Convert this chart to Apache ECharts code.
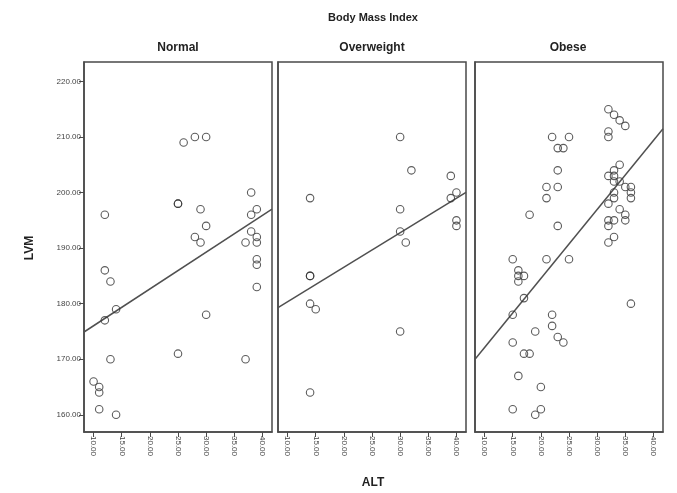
<!DOCTYPE html>
<html><head><meta charset="utf-8">
<script src="https://cdn.jsdelivr.net/npm/echarts@6/dist/echarts.min.js"></script>
<style>html,body{margin:0;padding:0;background:#fff}#c{width:677px;height:493px}</style>
</head><body><div id="c"></div>
<script>
// ---- data ----
const panelNames = ['Normal', 'Overweight', 'Obese'];
const xTicks = [10, 15, 20, 25, 30, 35, 40];
const yTicks = [160, 170, 180, 190, 200, 210, 220];

const normalALT = [10,11,11,11,14,12,12,13,14,12,13,25,25,25,26,28,30,29,30,28,29,30,37,38,39,38,38,39,37,39,39,39,39];
const normalLVM = [166,165,164,161,160,196,186,184,179,177,170,171,198,198,209,210,210,197,194,192,191,178,170,200,197,196,193,192,191,191,188,187,183];

const overweightALT = [14,14,14,14,15,14,30,32,30,30,31,30,39,40,39,40,40];
const overweightLVM = [199,185,185,180,179,164,210,204,197,193,191,175,203,200,199,195,194];

const obeseALT = [15,16,16,16,17,17,15,15,19,17,18,16,20,15,20,19,18,21,25,22,22,23,24,22,25,23,24,23,21,23,21,23,
  32,33,34,35,32,32,34,33,32,33,34,33,35,36,33,36,36,33,32,34,35,32,33,35,32,33,32,36];
const obeseLVM = [188,186,185,184,185,181,178,173,175,171,171,167,165,161,161,160,196,188,188,178,176,174,173,210,210,208,208,204,201,201,199,194,
  215,214,213,212,211,210,205,204,203,203,202,202,201,201,200,200,199,199,198,197,196,195,195,195,194,192,191,180];

// fit lines: LVM at ALT = fitALT[0] and fitALT[1]
const fitALT = [8.3, 41.7];
const fitNormal = [174.9, 197.0];
const fitOverweight = [179.3, 200.05];
const fitObese = [170.0, 211.5];

// ---- chart ----
const xsets = [normalALT, overweightALT, obeseALT];
const ysets = [normalLVM, overweightLVM, obeseLVM];
const fits = [fitNormal, fitOverweight, fitObese];
const zip = (a, b) => a.map((v, i) => [v, b[i]]);

const gridLeft = [84, 278, 475];
const frame = '#4a4a4a';
const chart = echarts.init(document.getElementById('c'), null, {renderer: 'canvas'});

const grids = gridLeft.map(l => ({left: l, top: 62, width: 188, height: 370, show: true,
  borderColor: frame, borderWidth: 1.5, backgroundColor: '#fff', containLabel: false}));

const xAxes = gridLeft.map((l, i) => ({
  type: 'value', gridIndex: i, min: 8.3, max: 41.7,
  axisLine: {show: true, lineStyle: {color: frame, width: 1.5}},
  axisTick: {show: true, length: 5, customValues: xTicks, lineStyle: {color: frame}},
  axisLabel: {show: true, customValues: xTicks, rotate: -90, fontSize: 8, color: '#444',
    fontFamily: 'Liberation Sans, Arial', margin: 4, formatter: v => Number(v).toFixed(2)},
  splitLine: {show: false}
}));

const yAxes = gridLeft.map((l, i) => ({
  type: 'value', gridIndex: i, min: 156.9, max: 223.5,
  axisLine: {show: true, lineStyle: {color: frame, width: 1.5}},
  axisTick: {show: i === 0, length: 5, customValues: yTicks, lineStyle: {color: frame}},
  axisLabel: {show: i === 0, customValues: yTicks, fontSize: 8, color: '#444',
    fontFamily: 'Liberation Sans, Arial', margin: 3, formatter: v => Number(v).toFixed(2)},
  splitLine: {show: false}
}));

const series = [];
for (let i = 0; i < 3; i++) {
  series.push({
    type: 'line', xAxisIndex: i, yAxisIndex: i, symbol: 'none',
    data: zip(fitALT, fits[i]),
    lineStyle: {color: '#505050', width: 1.5}, silent: true, z: 2
  });
  series.push({
    type: 'scatter', xAxisIndex: i, yAxisIndex: i, symbol: 'circle', symbolSize: 7.5,
    data: zip(xsets[i], ysets[i]),
    itemStyle: {color: 'rgba(0,0,0,0)', borderColor: '#333', borderWidth: 1.1}, z: 3
  });
}

const boldFont = (s) => 'bold ' + s + 'px "Liberation Sans", Arial, sans-serif';
const graphic = [
  {type: 'text', x: 373, y: 18, style: {text: 'Body Mass Index', font: boldFont(11), fill: '#222', align: 'center', verticalAlign: 'middle'}},
];
const panelCenters = [178, 372, 568];
panelNames.forEach((n, i) => graphic.push({type: 'text', x: panelCenters[i], y: 48,
  style: {text: n, font: boldFont(12), fill: '#222', align: 'center', verticalAlign: 'middle'}}));
graphic.push({type: 'text', x: 373, y: 483, style: {text: 'ALT', font: boldFont(12), fill: '#222', align: 'center', verticalAlign: 'middle'}});
graphic.push({type: 'text', x: 30, y: 248, rotation: Math.PI / 2, style: {text: 'LVM', font: boldFont(12), fill: '#222', align: 'center', verticalAlign: 'middle'}});

chart.setOption({
  animation: false,
  backgroundColor: '#fff',
  grid: grids, xAxis: xAxes, yAxis: yAxes, series: series, graphic: graphic
});
</script>
</body></html>
